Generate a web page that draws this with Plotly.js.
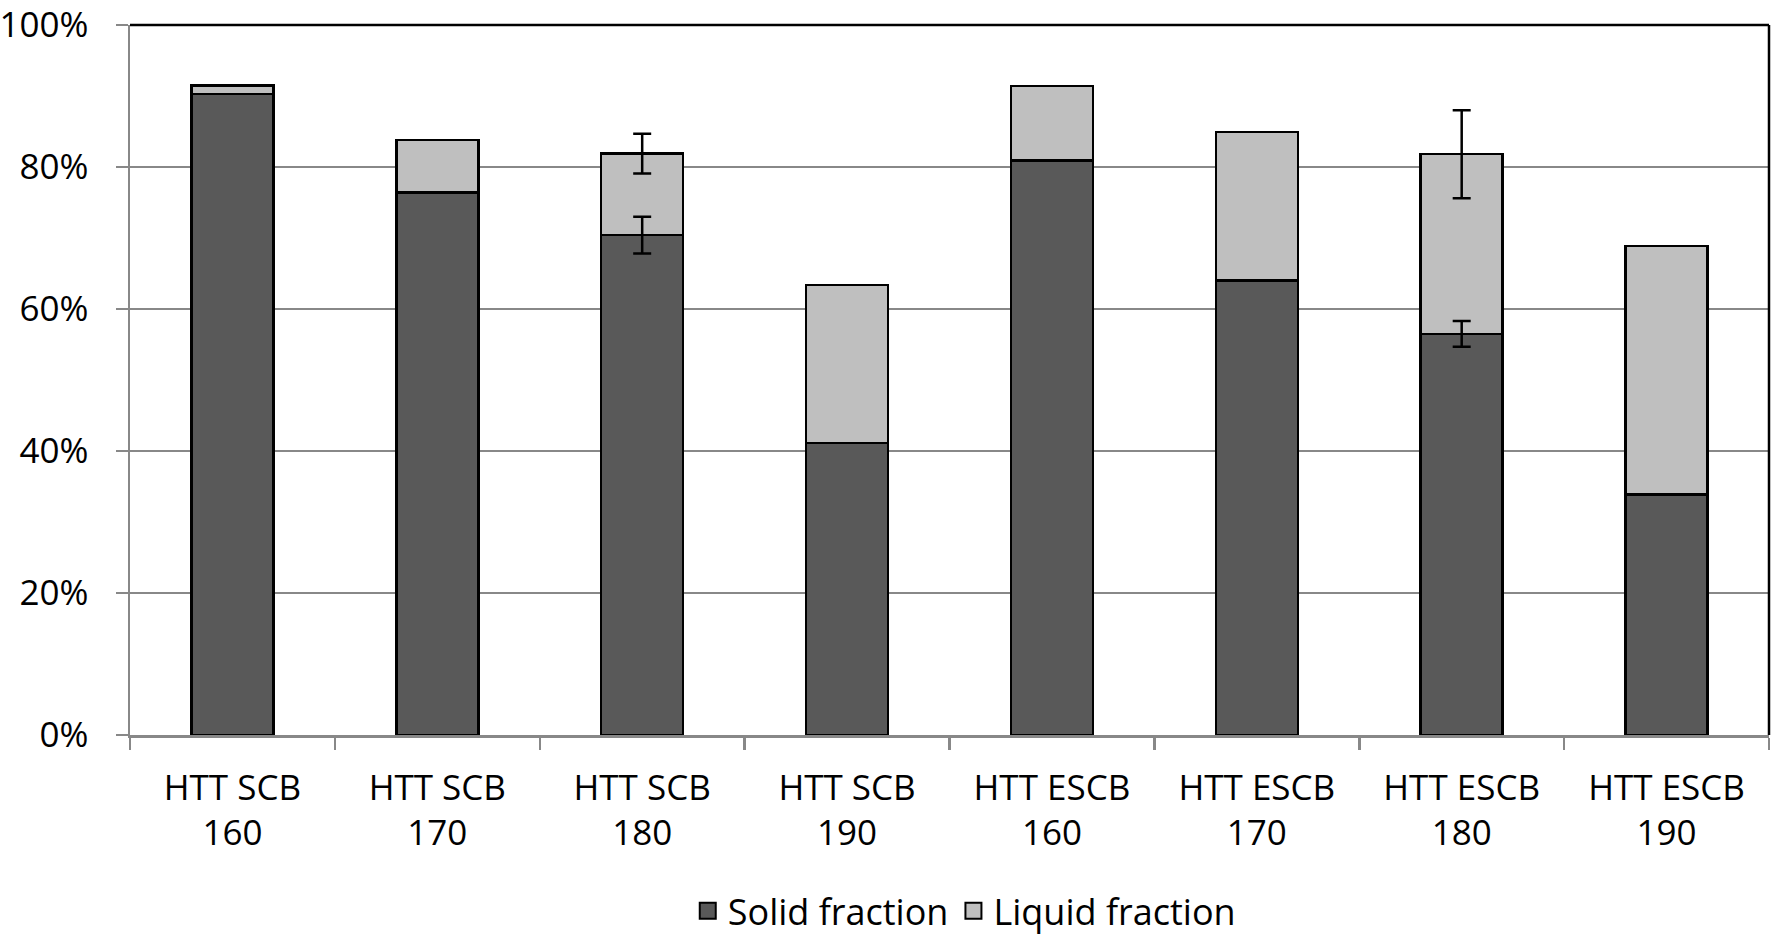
<!DOCTYPE html>
<html>
<head>
<meta charset="utf-8">
<script src="https://cdn.plot.ly/plotly-3.0.1.min.js"></script>
<style>html,body{margin:0;padding:0;background:#fff;}#chart{width:1773px;height:937px;}</style>
</head>
<body>
<div id="chart"></div>
<script>
const categories = ["HTT SCB<br>160","HTT SCB<br>170","HTT SCB<br>180","HTT SCB<br>190","HTT ESCB<br>160","HTT ESCB<br>170","HTT ESCB<br>180","HTT ESCB<br>190"];
const solidFraction = [90.3, 76.4, 70.4, 41.1, 80.9, 64.0, 56.5, 33.9];
const liquidFraction = [1.2, 7.4, 11.5, 22.3, 10.5, 20.9, 25.3, 35.0];
const solidError = [null, null, 2.6, null, null, null, 1.8, null];
const liquidError = [null, null, 2.8, null, null, null, 6.2, null];
const yTicks = [0, 20, 40, 60, 80, 100];
const seriesNames = ["Solid fraction", "Liquid fraction"];
const seriesColors = ["#595959", "#bfbfbf"];

const font = {family: "Open Sans, Liberation Sans, sans-serif", size: 35, color: "#000"};
const totals = solidFraction.map((v, i) => v + liquidFraction[i]);

const errStyle = {type: "data", visible: true, color: "#000", thickness: 2.5, width: 9};

function errorTrace(yVals, errs) {
  const idx = errs.map((e, i) => e == null ? -1 : i).filter(i => i >= 0);
  return {
    type: "scatter", mode: "markers", showlegend: false,
    x: idx.map(i => categories[i]), y: idx.map(i => yVals[i]),
    marker: {opacity: 0, size: 1},
    error_y: Object.assign({array: idx.map(i => errs[i])}, errStyle)
  };
}

const traces = [
  {
    type: "bar", name: seriesNames[0], x: categories, y: solidFraction, showlegend: false,
    marker: {color: seriesColors[0], line: {color: "#000", width: 2.5}}
  },
  {
    type: "bar", name: seriesNames[1], x: categories, y: liquidFraction, showlegend: false,
    marker: {color: seriesColors[1], line: {color: "#000", width: 2.5}}
  },
  errorTrace(solidFraction, solidError),
  errorTrace(totals, liquidError),
  {
    type: "scatter", mode: "markers", name: seriesNames[0], x: [null], y: [null],
    marker: {symbol: "square", size: 24, color: seriesColors[0], line: {color: "#000", width: 2}}
  },
  {
    type: "scatter", mode: "markers", name: seriesNames[1], x: [null], y: [null],
    marker: {symbol: "square", size: 24, color: seriesColors[1], line: {color: "#000", width: 2}}
  }
];

const layout = {
  width: 1773, height: 937,
  margin: {l: 130, r: 4, t: 25, b: 202},
  barmode: "stack", bargap: 0.6,
  paper_bgcolor: "#fff", plot_bgcolor: "#fff",
  font: font,
  showlegend: true,
  legend: {orientation: "h", xref: "paper", x: 0.509, xanchor: "center", yref: "container", y: 0.028, yanchor: "middle",
           font: {family: font.family, size: 36, color: "#000"}, traceorder: "normal", itemwidth: 30},
  xaxis: {
    type: "category", showgrid: false, showline: true, linecolor: "#888", linewidth: 2.5,
    ticks: "outside", tickson: "boundaries", ticklen: 12, tickcolor: "#888", tickwidth: 2.5,
    tickfont: font, zeroline: false, automargin: false, ticklabelstandoff: 20
  },
  yaxis: {
    range: [0, 100], tickvals: yTicks, ticktext: yTicks.map(v => v + "%"),
    showgrid: true, gridcolor: "#888", gridwidth: 2.5,
    showline: true, linecolor: "#888", linewidth: 2.5,
    ticks: "outside", ticklen: 12, tickcolor: "#888", tickwidth: 2.5,
    tickfont: font, zeroline: false, automargin: false, ticklabelstandoff: 20
  },
  shapes: [
    {type: "line", xref: "paper", yref: "paper", x0: 0, x1: 1, y0: 1, y1: 1, line: {color: "#000", width: 2.5}},
    {type: "line", xref: "paper", yref: "paper", x0: 1, x1: 1, y0: 0, y1: 1, line: {color: "#000", width: 2.5}}
  ]
};

Plotly.newPlot("chart", traces, layout, {displayModeBar: false, staticPlot: true});
</script>
</body>
</html>
